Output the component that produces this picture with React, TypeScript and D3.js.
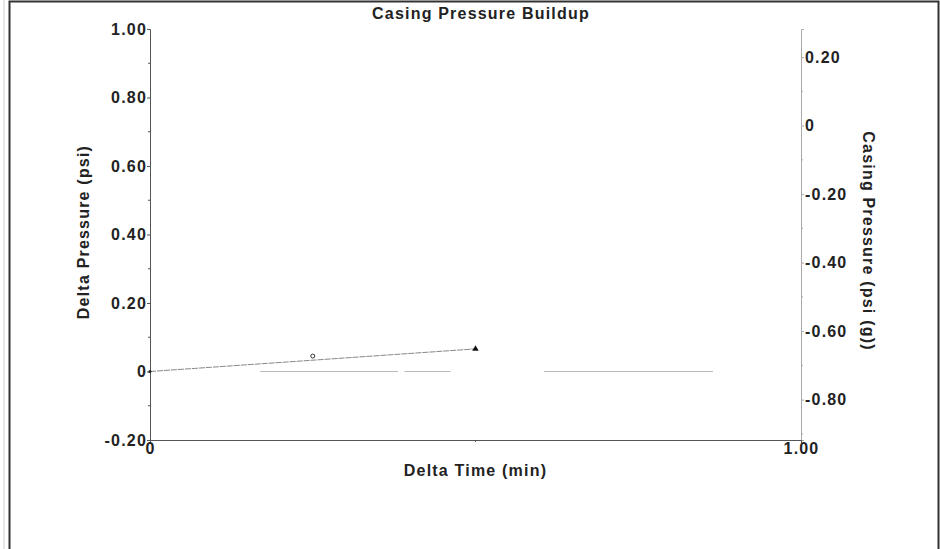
import * as d3 from "d3";
import React, { useEffect, useRef } from "react";

// data
const deltaTime = [0, 0.25, 0.5];
const deltaPressure = [0, 0.045, 0.066];
const pointKind = ["start", "open", "filled"];
// faint gray trace (casing pressure, drawn on the right axis)
const casingSegments = [
  [0.169, 0.381, -0.718],
  [0.391, 0.462, -0.718],
  [0.605, 0.865, -0.718],
];
const leftTicks = [-0.2, 0, 0.2, 0.4, 0.6, 0.8, 1.0];
const rightTicks = [0.2, 0, -0.2, -0.4, -0.6, -0.8];
const bottomTicks = [0, 1.0];

const fmt = (v: number) => (Math.abs(v) < 1e-9 ? "0" : v.toFixed(2));

export default function App() {
  const svgRef = useRef<SVGSVGElement>(null);

  useEffect(() => {
    const svg = d3.select(svgRef.current);
    svg.selectAll("*").remove();

    const left = 150, right = 801, top = 29, bottom = 440;
    const font = "'Liberation Sans', Arial, sans-serif";
    const fs = "16px";
    const ls = "1.2px";

    const x = d3.scaleLinear().domain([0, 1]).range([left, right]);
    const y = d3.scaleLinear().domain([-0.2, 1.0]).range([bottom, top]);
    const y2 = d3.scaleLinear().domain([-0.918, 0.282]).range([bottom, top]);

    // frame
    svg.append("line").attr("x1", 4).attr("x2", 4).attr("y1", 0).attr("y2", 549)
      .attr("stroke", "#ccc").attr("stroke-width", 1);
    svg.append("path").attr("d", "M9.5,549 V1.5 H938.5 V549")
      .attr("fill", "none").attr("stroke", "#333").attr("stroke-width", 2);

    // title
    svg.append("text").attr("x", 481).attr("y", 19).attr("text-anchor", "middle")
      .style("font-family", font).style("font-weight", "bold").style("font-size", fs)
      .style("letter-spacing", ls).attr("fill", "#222").text("Casing Pressure Buildup");

    const styleText = (sel: any) =>
      sel.style("font-family", font).style("font-weight", "bold")
        .style("font-size", fs).style("letter-spacing", ls).attr("fill", "#222");

    // left axis
    const gl = svg.append("g").attr("transform", `translate(${left},0)`)
      .call(d3.axisLeft(y).tickValues(leftTicks).tickSize(3).tickFormat((d) => fmt(+d)));
    gl.select(".domain").attr("stroke", "#555");
    gl.selectAll(".tick line").attr("stroke", "#555");
    styleText(gl.selectAll("text")).attr("x", -3);
    // minor ticks
    d3.range(-0.1, 1.0, 0.2).forEach((v) => {
      svg.append("line").attr("x1", left - 2).attr("x2", left).attr("y1", y(v)).attr("y2", y(v))
        .attr("stroke", "#555");
    });

    // right axis
    const gr = svg.append("g").attr("transform", `translate(${right},0)`)
      .call(d3.axisRight(y2).tickValues(rightTicks).tickSize(3).tickFormat((d) => fmt(+d)));
    gr.select(".domain").attr("stroke", "#aaa");
    gr.selectAll(".tick line").attr("stroke", "#aaa");
    styleText(gr.selectAll("text")).attr("x", 4);
    d3.range(-0.9, 0.2, 0.2).forEach((v) => {
      if (y2(v) > bottom) return;
      svg.append("line").attr("x1", right).attr("x2", right + 2).attr("y1", y2(v)).attr("y2", y2(v))
        .attr("stroke", "#aaa");
    });

    // bottom axis
    const gb = svg.append("g").attr("transform", `translate(0,${bottom})`)
      .call(d3.axisBottom(x).tickValues(bottomTicks).tickSize(3).tickFormat((d) => fmt(+d)));
    gb.select(".domain").attr("stroke", "#555");
    gb.selectAll(".tick line").attr("stroke", "#555");
    styleText(gb.selectAll("text")).attr("y", 3);
    svg.append("line").attr("x1", x(0.5)).attr("x2", x(0.5)).attr("y1", bottom).attr("y2", bottom + 2)
      .attr("stroke", "#555");

    // axis titles
    styleText(svg.append("text").attr("transform", `translate(89,232) rotate(-90)`)
      .attr("text-anchor", "middle")).text("Delta Pressure (psi)");
    styleText(svg.append("text").attr("transform", `translate(863,241) rotate(90)`)
      .attr("text-anchor", "middle")).text("Casing Pressure (psi (g))");
    styleText(svg.append("text").attr("x", x(0.5)).attr("y", 476)
      .attr("text-anchor", "middle").style("letter-spacing", "1px")).text("Delta Time (min)");

    // casing pressure trace
    casingSegments.forEach(([a, b, v]) => {
      svg.append("line").attr("x1", x(a)).attr("x2", x(b)).attr("y1", y2(v)).attr("y2", y2(v))
        .attr("stroke", "#bbb").attr("stroke-width", 1);
    });

    // delta pressure line
    const pts = deltaTime.map((t, i) => [t, deltaPressure[i]] as [number, number]);
    const line = d3.line<[number, number]>().x((d) => x(d[0])).y((d) => y(d[1]));
    svg.append("path").attr("d", line([pts[0], pts[2]]) || "")
      .attr("fill", "none").attr("stroke", "#888").attr("stroke-width", 1)
      .attr("stroke-dasharray", "6,1");

    pts.forEach((p, i) => {
      const k = pointKind[i];
      if (k === "open") {
        svg.append("circle").attr("cx", x(p[0])).attr("cy", y(p[1])).attr("r", 2)
          .attr("fill", "white").attr("stroke", "#333").attr("stroke-width", 1);
      } else if (k === "filled") {
        svg.append("path").attr("d", d3.symbol(d3.symbolTriangle, 18)() || "")
          .attr("transform", `translate(${x(p[0])},${y(p[1])})`).attr("fill", "#111");
      } else {
        svg.append("circle").attr("cx", x(p[0])).attr("cy", y(p[1])).attr("r", 1.5).attr("fill", "#222");
      }
    });
  }, []);

  return (
    <svg ref={svgRef} width={940} height={549}
      style={{ position: "absolute", left: 0, top: 0, background: "white" }} />
  );
}
